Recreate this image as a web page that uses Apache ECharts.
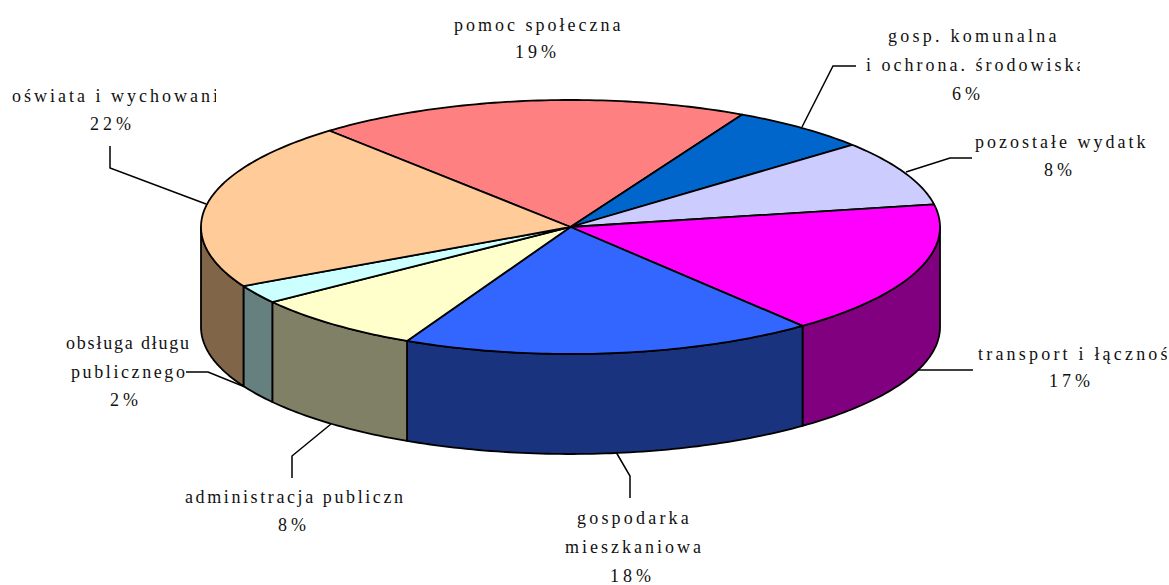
<!DOCTYPE html>
<html>
<head>
<meta charset="utf-8">
<title>wydatki</title>
<script src="https://cdn.jsdelivr.net/npm/echarts@6/dist/echarts.min.js"></script>
<style>
  html,body{margin:0;padding:0;background:#fff;}
  #chart{width:1169px;height:585px;}
</style>
</head>
<body>
<div id="chart"></div>
<script>
// data (share of the pie, clockwise from pomoc spoleczna)
var categories = ['pomoc społeczna', 'gosp. komunalna\ni ochrona. środowiska', 'pozostałe wydatki',
  'transport i łączność', 'gospodarka\nmieszkaniowa', 'administracja publiczna',
  'obsługa długu\npublicznego', 'oświata i wychowanie'];
var values = [19.0, 6.1, 8.35, 17.05, 18.1, 7.65, 2.35, 21.4];
var percentLabels = ['19%', '6%', '8%', '17%', '18%', '8%', '2%', '22%'];
var topColors = ['#FF8080', '#0066CC', '#CCCCFF', '#FF00FF', '#3366FF', '#FFFFCC', '#CCFFFF', '#FFCC99'];
var sideColors = ['#804040', '#003366', '#666680', '#800080', '#19337F', '#808066', '#668080', '#806548'];

// pie geometry
var cx = 570.5, cy = 227, rx = 369.5, ry = 127, depth = 100, startAngle = -40.7;
var total = values.reduce(function (a, b) { return a + b; }, 0);
var FONT = '18px "Liberation Serif"';

// label placement, one entry per slice: [left, centreY, clipRight, letterSpacing] for each text line
var labelLines = [
  [[454, 25, 621, 3.0], [515, 52, 600, 4.0]],
  [[888, 36, 1070, 3.25], [866, 65, 1080, 3.0], [952, 94, 1020, 4.0]],
  [[975, 142, 1148, 3.0], [1044, 170, 1100, 4.0]],
  [[978, 354, 1167, 3.2], [1049, 381, 1120, 4.0]],
  [[577, 518, 700, 3.2], [565, 547, 701, 3.0], [610, 576, 680, 4.0]],
  [[185, 497, 406, 2.6], [278, 525, 340, 4.0]],
  [[66, 343, 189, 1.8], [71, 372, 186, 2.6], [110, 400, 160, 4.0]],
  [[12, 96, 216, 3.0], [90, 124, 160, 4.0]]
];
var leaders = [
  null,
  [[802, 127], [833, 66], [856, 66]],
  [[906, 172], [950, 158], [972, 158]],
  [[917, 370], [973, 370]],
  [[616, 452], [630, 476], [630, 498]],
  [[331, 424], [292, 456], [292, 478]],
  [[245, 387], [208, 372], [186, 372]],
  [[206, 204], [110, 168], [110, 146]]
];

function pt(deg, dy) {
  var r = deg * Math.PI / 180;
  return [cx + rx * Math.sin(r), cy - ry * Math.cos(r) + (dy || 0)];
}

function arc(a0, a1, dy) {
  var pts = [], n = Math.max(2, Math.ceil(Math.abs(a1 - a0)));
  for (var i = 0; i <= n; i++) {
    pts.push(pt(a0 + (a1 - a0) * i / n, dy));
  }
  return pts;
}

function sliceStart(idx) {
  var sum = 0;
  for (var i = 0; i < idx; i++) sum += values[i];
  return startAngle + echarts.number.linearMap(sum, [0, total], [0, 360]);
}

function renderSlice(params, api) {
  var i = params.dataIndex;
  var a0 = sliceStart(i);
  var a1 = a0 + echarts.number.linearMap(api.value(0), [0, total], [0, 360]);
  var children = [];
  var lineStyle = { stroke: '#000', lineWidth: 1.8, lineJoin: 'round' };

  // front wall only shows between 90 and 270 degrees
  var s0 = Math.max(a0, 90), s1 = Math.min(a1, 270);
  if (s1 > s0) {
    children.push({
      type: 'polygon',
      shape: { points: arc(s0, s1, 0).concat(arc(s1, s0, depth)) },
      style: Object.assign({ fill: sideColors[i] }, lineStyle)
    });
  }
  children.push({
    type: 'polygon',
    shape: { points: [[cx, cy]].concat(arc(a0, a1, 0)) },
    style: Object.assign({ fill: topColors[i] }, lineStyle)
  });
  if (leaders[i]) {
    children.push({
      type: 'polyline',
      shape: { points: leaders[i] },
      style: { stroke: '#000', lineWidth: 1.5, fill: null }
    });
  }
  var texts = categories[i].split('\n').concat(percentLabels[i]);
  texts.forEach(function (t, k) {
    var l = labelLines[i][k];
    children.push({
      type: 'text',
      style: { x: l[0], y: l[1], text: t, font: FONT, fill: '#111', textAlign: 'left', textVerticalAlign: 'middle' },
      clipPath: { type: 'rect', shape: { x: l[0] - 2, y: l[1] - 16, width: l[2] - l[0] + 2, height: 32 } }
    });
  });
  return { type: 'group', children: children };
}

var myChart = echarts.init(document.getElementById('chart'), null, { renderer: 'svg' });
myChart.setOption({
  animation: false,
  backgroundColor: '#fff',
  series: [{
    type: 'custom',
    coordinateSystem: 'none',
    silent: true,
    renderItem: renderSlice,
    data: values.map(function (v, i) { return { name: categories[i], value: [v] }; })
  }]
});

// echarts has no letter spacing option, the svg text takes it from css
var spacing = {};
categories.forEach(function (c, i) {
  c.split('\n').concat(percentLabels[i]).forEach(function (t, k) { spacing[t] = labelLines[i][k][3]; });
});
function applySpacing() {
  document.querySelectorAll('#chart svg text').forEach(function (el) {
    var s = spacing[el.textContent];
    if (s) el.style.letterSpacing = s + 'px';
  });
}
applySpacing();
myChart.on('finished', applySpacing);
</script>
</body>
</html>
